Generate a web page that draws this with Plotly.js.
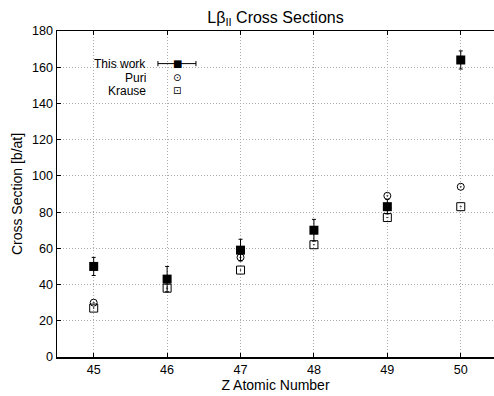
<!DOCTYPE html>
<html>
<head>
<meta charset="utf-8">
<script src="https://cdn.plot.ly/plotly-3.0.1.min.js"></script>
<style>html,body{margin:0;padding:0;background:#fff;}#chart{width:494px;height:396px;}</style>
</head>
<body>
<div id="chart"></div>
<script>
// Data
const zValues = [45, 46, 47, 48, 49, 50];
const thisWork = [50, 43, 59, 70, 83, 164];
const thisWorkErr = [5, 7, 6, 6, 4, 5];
const puri = [30, 43, 55, 70, 89, 94];
const krause = [27, 38, 48, 62, 77, 83];
const seriesNames = ["This work", "Puri", "Krause"];
const keySymbols = ["■", "⊙", "⊡"];
const xTicks = [45, 46, 47, 48, 49, 50];
const yTicks = [0, 20, 40, 60, 80, 100, 120, 140, 160, 180];

const FONT = "Liberation Sans, Arial, Helvetica, sans-serif";
const KEYFONT = "DejaVu Sans, sans-serif";

const traces = [
  {
    x: zValues, y: krause, type: "scatter", mode: "markers", name: seriesNames[2],
    marker: {symbol: "square-open-dot", size: 8, color: "#000", line: {width: 1, color: "#000"}}
  },
  {
    x: zValues, y: puri, type: "scatter", mode: "markers", name: seriesNames[1],
    marker: {symbol: "circle-open-dot", size: 7, color: "#000", line: {width: 1, color: "#000"}}
  },
  {
    x: zValues, y: thisWork, type: "scatter", mode: "markers", name: seriesNames[0],
    marker: {symbol: "square", size: 9, color: "#000"},
    error_y: {type: "data", array: thisWorkErr, visible: true, color: "#000", thickness: 1, width: 2}
  }
];

// key layout (paper coordinates)
const keyTextX = 0.206, keySymX = 0.2746;
const keyRowY = [0.9, 0.858, 0.816];

const annotations = [];
seriesNames.forEach((n, i) => {
  annotations.push({
    text: n, xref: "paper", yref: "paper", x: keyTextX, y: keyRowY[i],
    xanchor: "right", yanchor: "middle", showarrow: false, height: 11, borderpad: 0,
    font: {family: FONT, size: 12, color: "#000"}
  });
});
keySymbols.forEach((s, i) => {
  annotations.push({text: s, xref: "paper", yref: "paper", x: keySymX, y: keyRowY[i],
    xanchor: "center", yanchor: "middle", showarrow: false, height: 11, borderpad: 0,
    font: {family: KEYFONT, size: 10, color: "#000"}});
});

const barL = 0.231, barR = 0.318, capH = 0.008;
const shapes = [
  {type: "line", xref: "paper", yref: "paper", x0: barL, x1: barR, y0: keyRowY[0], y1: keyRowY[0], line: {color: "#000", width: 1}},
  {type: "line", xref: "paper", yref: "paper", x0: barL, x1: barL, y0: keyRowY[0] - capH, y1: keyRowY[0] + capH, line: {color: "#000", width: 1}},
  {type: "line", xref: "paper", yref: "paper", x0: barR, x1: barR, y0: keyRowY[0] - capH, y1: keyRowY[0] + capH, line: {color: "#000", width: 1}}
];

const layout = {
  width: 494, height: 396,
  margin: {l: 57, r: 0, t: 31, b: 39},
  paper_bgcolor: "#fff", plot_bgcolor: "#fff",
  font: {family: FONT, size: 12.6, color: "#000"},
  title: {text: "Lβ<sub>II</sub> Cross Sections", font: {family: FONT, size: 16, color: "#000"},
          x: 0.5, xref: "paper", y: 1 - 17 / 396, yref: "container", yanchor: "middle"},
  showlegend: false,
  xaxis: {
    range: [44.5, 50.453], tickvals: xTicks, ticktext: xTicks.map(String),
    showgrid: true, gridcolor: "#aaa", griddash: "1px,2px", gridwidth: 1,
    showline: true, linecolor: "#000", linewidth: 1.5, mirror: "ticks",
    ticks: "inside", ticklen: 4, tickcolor: "#000", zeroline: false,
    tickfont: {family: FONT, size: 12.6},
    title: {text: "Z Atomic Number", font: {family: FONT, size: 14}, standoff: 2}
  },
  yaxis: {
    range: [0, 180], tickvals: yTicks, ticktext: yTicks.map(String),
    showgrid: true, gridcolor: "#aaa", griddash: "1px,2px", gridwidth: 1,
    showline: true, linecolor: "#000", linewidth: 1.5,
    ticks: "inside", ticklen: 4, tickcolor: "#000", zeroline: false,
    tickfont: {family: FONT, size: 12.6},
    title: {text: "Cross Section [b/at]", font: {family: FONT, size: 14}, standoff: 6}
  },
  annotations: annotations,
  shapes: shapes
};

Plotly.newPlot("chart", traces, layout, {displayModeBar: false, staticPlot: true});
</script>
</body>
</html>
